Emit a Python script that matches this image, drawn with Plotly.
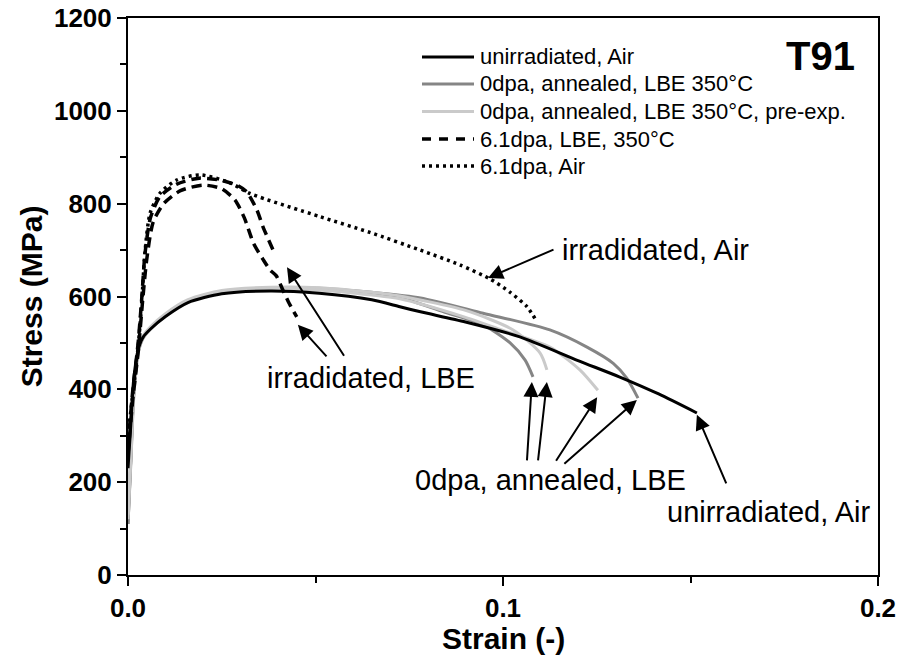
import plotly.graph_objects as go

# ---- stress-strain data (strain in -, stress in MPa) ----
unirr_air_strain = [0.0, 0.0008, 0.0015, 0.0027, 0.004, 0.006, 0.010, 0.016, 0.025, 0.038, 0.051,
                    0.065, 0.0725, 0.078, 0.090, 0.1045, 0.120, 0.131, 0.1415, 0.1517]
unirr_air_stress = [230, 330, 420, 485, 512, 530, 557, 587, 606, 612, 607,
                    593, 578, 567, 545, 513, 462, 427, 390, 349]

lbe_a_strain = [0.0, 0.0008, 0.0015, 0.0027, 0.004, 0.006, 0.010, 0.016, 0.025, 0.038, 0.051,
                0.065, 0.0725, 0.085, 0.0947, 0.1019, 0.1059, 0.108]
lbe_a_stress = [110, 250, 380, 478, 510, 530, 559, 589, 609, 616, 615,
                606, 598, 565, 539, 500, 463, 427]

lbe_b_strain = [0.0, 0.0008, 0.0015, 0.0027, 0.004, 0.006, 0.010, 0.016, 0.025, 0.038, 0.051,
                0.065, 0.078, 0.0947, 0.1125, 0.1224, 0.1294, 0.133, 0.136]
lbe_b_stress = [110, 260, 390, 482, 512, 532, 561, 591, 611, 618, 618,
                609, 597, 564, 528, 491, 456, 424, 381]

pre_a_strain = [0.0, 0.0008, 0.0015, 0.0027, 0.004, 0.006, 0.010, 0.016, 0.025, 0.038, 0.051,
                0.065, 0.0725, 0.090, 0.1027, 0.1099, 0.1117]
pre_a_stress = [130, 270, 395, 486, 515, 535, 563, 593, 613, 620, 619,
                609, 601, 570, 528, 478, 442]

pre_b_strain = [0.0, 0.0008, 0.0015, 0.0027, 0.004, 0.006, 0.010, 0.016, 0.025, 0.038, 0.051,
                0.065, 0.0725, 0.090, 0.100, 0.1125, 0.1205, 0.1253]
pre_b_stress = [120, 262, 388, 480, 510, 530, 559, 590, 610, 617, 614,
                603, 595, 555, 527, 491, 442, 398]

irr_lbe_a_strain = [0.0, 0.0013, 0.0027, 0.004, 0.005, 0.0067, 0.0095, 0.014, 0.020, 0.025,
                    0.0285, 0.031, 0.0335, 0.036, 0.0379, 0.0395, 0.0413, 0.043, 0.045]
irr_lbe_a_stress = [260, 380, 480, 600, 680, 760, 800, 828, 840, 832,
                    808, 770, 714, 680, 657, 645, 614, 585, 556]

irr_lbe_b_strain = [0.0, 0.0013, 0.0027, 0.0037, 0.0045, 0.006, 0.0085, 0.013, 0.019, 0.025,
                    0.0295, 0.0317, 0.0344, 0.036, 0.0387]
irr_lbe_b_stress = [280, 400, 500, 600, 690, 770, 815, 842, 855, 850,
                    838, 825, 786, 750, 700]

irr_air_strain = [0.0, 0.0013, 0.0027, 0.0037, 0.0045, 0.0059, 0.0085, 0.013, 0.0192, 0.0272,
                  0.0325, 0.0512, 0.0645, 0.0779, 0.0885, 0.0965, 0.1019, 0.1064, 0.1085]
irr_air_stress = [300, 392, 491, 592, 693, 780, 822, 851, 862, 845,
                  822, 772, 738, 700, 668, 638, 609, 578, 553]

legend_names = ["unirradiated, Air", "0dpa, annealed, LBE 350°C",
                "0dpa, annealed, LBE 350°C, pre-exp.", "6.1dpa, LBE, 350°C", "6.1dpa, Air"]

FONT = "Liberation Sans, Arial, sans-serif"
BLACK = "#000000"
MID_GREY = "#858585"
LIGHT_GREY = "#cacaca"
DASH = "10px,6px"
DOT = "3px,4px"

# plot-area geometry in pixels, used to place the key in paper units
W, H = 899, 657
ML, MR, MT, MB = 128, 21, 18, 82
PW, PH = W - ML - MR, H - MT - MB


def px_x(px):
    return (px - ML) / PW


def px_y(py):
    return (H - MB - py) / PH


fig = go.Figure()


def curve(x, y, name, color, width=3.0, dash="solid"):
    fig.add_trace(go.Scatter(
        x=x, y=y, mode="lines", name=name,
        line=dict(color=color, width=width, dash=dash, shape="spline", smoothing=0.7),
        showlegend=False, hoverinfo="skip",
    ))


# grey curves underneath, black and irradiated curves on top
curve(lbe_a_strain, lbe_a_stress, legend_names[1], MID_GREY)
curve(lbe_b_strain, lbe_b_stress, legend_names[1], MID_GREY)
curve(pre_a_strain, pre_a_stress, legend_names[2], LIGHT_GREY)
curve(pre_b_strain, pre_b_stress, legend_names[2], LIGHT_GREY)
curve(unirr_air_strain, unirr_air_stress, legend_names[0], BLACK)
curve(irr_lbe_a_strain, irr_lbe_a_stress, legend_names[3], BLACK, 3.5, DASH)
curve(irr_lbe_b_strain, irr_lbe_b_stress, legend_names[3], BLACK, 3.5, DASH)
curve(irr_air_strain, irr_air_stress, legend_names[4], BLACK, 3.5, DOT)

# ---- key: line sample + label per series ----
key_styles = [(BLACK, 3.0, "solid"), (MID_GREY, 3.0, "solid"), (LIGHT_GREY, 3.0, "solid"),
              (BLACK, 3.5, "9px,8px"), (BLACK, 3.5, DOT)]
key_rows_px = [57, 84, 111.5, 139, 166]
for name, (col, wid, dsh), ry in zip(legend_names, key_styles, key_rows_px):
    fig.add_shape(type="line", xref="paper", yref="paper",
                  x0=px_x(422), x1=px_x(474), y0=px_y(ry), y1=px_y(ry),
                  line=dict(color=col, width=wid, dash=dsh))
    fig.add_annotation(xref="paper", yref="paper", x=px_x(478), y=px_y(ry), text=name,
                       showarrow=False, xanchor="left", yanchor="middle",
                       font=dict(family=FONT, size=22, color=BLACK))

# ---- arrows: (head strain, head stress, tail offset px) ----
arrows = [
    (0.0960, 640, 67, -29),
    (0.0453, 539, 30, 33),
    (0.0424, 663, 58, 90),
    (0.1077, 416, -5, 80),
    (0.1117, 416, -9, 80),
    (0.1251, 383, -42, 65),
    (0.1357, 377, -74, 65),
    (0.1517, 345, 30, 70),
]
for hx, hy, ax, ay in arrows:
    fig.add_annotation(x=hx, y=hy, ax=ax, ay=ay, text="", showarrow=True,
                       arrowhead=2, arrowsize=1.5, arrowwidth=2.0, arrowcolor=BLACK, standoff=0)

labels = [
    (0.1152, 700, "irradidated, Air"),
    (0.0365, 424, "irradidated, LBE"),
    (0.0760, 205, "0dpa, annealed, LBE"),
    (0.1432, 136, "unirradiated, Air"),
]
for lx, ly, txt in labels:
    fig.add_annotation(x=lx, y=ly, text=txt, showarrow=False, xanchor="left", yanchor="middle",
                       font=dict(family=FONT, size=29, color=BLACK))

fig.add_annotation(x=0.1944, y=1118, text="T91", showarrow=False, xanchor="right", yanchor="middle",
                   font=dict(family=FONT, size=40, color=BLACK, weight="bold"))

# x-axis title placed just under the tick labels
fig.add_annotation(xref="paper", yref="paper", x=0.5, y=px_y(639), text="Strain (-)",
                   showarrow=False, xanchor="center", yanchor="middle",
                   font=dict(family=FONT, size=30, color=BLACK, weight="bold"))

axis_common = dict(
    showline=True, linecolor=BLACK, linewidth=2, mirror=True,
    ticks="outside", ticklen=9, tickwidth=2, tickcolor=BLACK,
    showgrid=False, zeroline=False, automargin=False,
    tickfont=dict(family=FONT, size=26, color=BLACK, weight="bold"),
)

fig.update_xaxes(
    range=[0, 0.2], tickvals=[0.0, 0.1, 0.2], ticktext=["0.0", "0.1", "0.2"],
    minor=dict(ticks="outside", ticklen=6, tickwidth=2, tickcolor=BLACK, dtick=0.05, showgrid=False),
    **axis_common,
)
fig.update_yaxes(
    range=[0, 1200], tickvals=[0, 200, 400, 600, 800, 1000, 1200],
    minor=dict(ticks="outside", ticklen=6, tickwidth=2, tickcolor=BLACK, dtick=100, showgrid=False),
    title=dict(text="Stress (MPa)", font=dict(family=FONT, size=30, color=BLACK, weight="bold"), standoff=2),
    **axis_common,
)

fig.update_layout(
    width=W, height=H,
    margin=dict(l=ML, r=MR, t=MT, b=MB),
    paper_bgcolor="white", plot_bgcolor="white",
    font=dict(family=FONT, color=BLACK),
    showlegend=False,
)

fig.write_html("out.html")
